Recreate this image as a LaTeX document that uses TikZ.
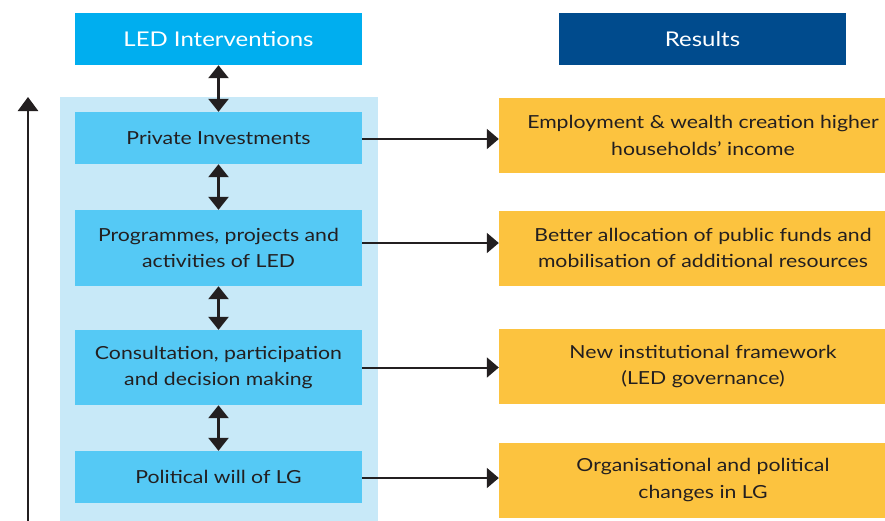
\documentclass[tikz,border=0pt]{standalone}
\usepackage{fontspec}
\setmainfont{Lato}[FakeStretch=1.18]
\usetikzlibrary{arrows.meta}
\definecolor{ledblue}{RGB}{0,174,239}
\definecolor{resblue}{RGB}{0,75,141}
\definecolor{panelblue}{RGB}{200,233,248}
\definecolor{boxblue}{RGB}{85,201,245}
\definecolor{resorange}{RGB}{252,195,63}
\definecolor{ink}{RGB}{35,31,32}
\tikzset{
  hdr/.style={rectangle, minimum width=287, minimum height=52, inner sep=0pt, text=white, font=\fontsize{20.3}{26}\selectfont},
  ledbox/.style={rectangle, fill=boxblue, minimum width=287, inner sep=0pt, text=ink, align=center, font=\fontsize{18}{26.8}\selectfont},
  resbox/.style={rectangle, fill=resorange, minimum width=408, minimum height=75, inner sep=0pt, text=ink, align=center, font=\fontsize{18}{26.8}\selectfont},
  dbl/.style={{Triangle[width=20pt,length=13pt]}-{Triangle[width=20pt,length=13pt]}, line width=2.5pt, draw=ink},
  rarr/.style={-{Triangle[width=20pt,length=12pt]}, line width=2pt, draw=ink},
}
\begin{document}
\begin{tikzpicture}[x=1pt,y=-1pt]
\useasboundingbox (0,0) rectangle (885,520);
\node[hdr, fill=ledblue] (led) at (218.5,39) {LED Interventions};
\node[hdr, fill=resblue] (res) at (702.5,39) {Results};
\node[rectangle, fill=panelblue, minimum width=318, minimum height=440, inner sep=0pt] (panel) at (219,317) {};
\node[ledbox, minimum height=52] (pi) at (218.5,138) {Private Investments};
\node[ledbox, minimum height=76] (prog) at (218.5,248) {Programmes, projects and\\activities of LED};
\node[ledbox, minimum height=75] (cons) at (218.5,367.5) {Consultation, participation\\and decision making};
\node[ledbox, minimum height=52] (pol) at (218.5,477) {Political will of LG};
\node[resbox] (r1) at (703,135.5) {Employment \& wealth creation higher\\households’ income};
\node[resbox] (r2) at (703,248) {Better allocation of public funds and\\mobilisation of additional resources};
\node[resbox] (r3) at (703,366.5) {New institutional framework\\(LED governance)};
\node[resbox] (r4) at (703,480) {Organisational and political\\changes in LG};
\draw[dbl] (led.south) -- (pi.north);
\draw[dbl] (pi.south) -- (prog.north);
\draw[dbl] (prog.south) -- (cons.north);
\draw[dbl] (cons.south) -- (pol.north);
\draw[rarr] ([yshift=-1pt]pi.east) -- ([yshift=-1pt]pi.east -| r1.west);
\draw[rarr] ([yshift=5pt]prog.east) -- ([yshift=5pt]prog.east -| r2.west);
\draw[rarr] (cons.east) -- (cons.east -| r3.west);
\draw[rarr] ([yshift=-1pt]pol.east) -- ([yshift=-1pt]pol.east -| r4.west);
\coordinate (up0) at (28,522);
\coordinate (up1) at (28,97);
\draw[-{Triangle[width=20pt,length=14pt]}, line width=2.5pt, draw=ink] (up0) -- (up1);
\end{tikzpicture}
\end{document}
